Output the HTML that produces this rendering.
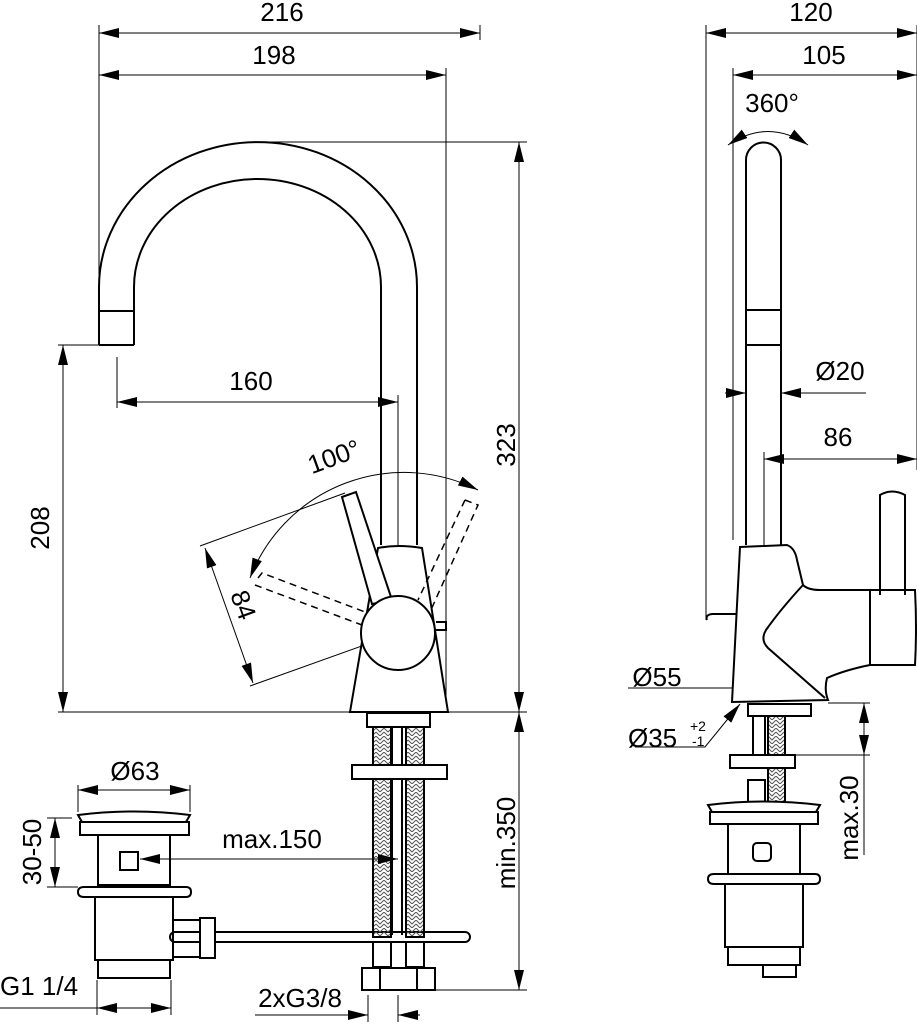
<!DOCTYPE html>
<html><head><meta charset="utf-8"><style>
html,body{margin:0;padding:0;background:#fff}
svg{display:block}
text{font-family:"Liberation Sans",Arial,sans-serif;font-size:26px;fill:#000}
</style></head><body>
<svg width="917" height="1024" viewBox="0 0 917 1024" xmlns="http://www.w3.org/2000/svg">
<defs>
<marker id="a" viewBox="0 0 20 10" refX="20" refY="5" markerWidth="20" markerHeight="10" markerUnits="userSpaceOnUse" orient="auto-start-reverse"><path d="M0,0 L20,5 L0,10 z" fill="#000"/></marker>
<pattern id="br" width="8" height="8" patternUnits="userSpaceOnUse"><path d="M0,0 L4,4 L8,0 M0,4 L4,8 L8,4" stroke="#555" stroke-width="1" fill="none"/></pattern>
</defs>
<g fill="none" stroke="#000" stroke-width="1">
<line x1="99" y1="25" x2="99" y2="345"/>
<line x1="480" y1="25" x2="480" y2="40"/>
<line x1="446" y1="68" x2="446" y2="712"/>
<line x1="99" y1="33" x2="480" y2="33" marker-start="url(#a)" marker-end="url(#a)"/>
<line x1="99" y1="75" x2="446" y2="75" marker-start="url(#a)" marker-end="url(#a)"/>
<line x1="257" y1="142" x2="527" y2="142"/>
<line x1="519" y1="142" x2="519" y2="712" marker-start="url(#a)" marker-end="url(#a)"/>
<line x1="58" y1="712" x2="350" y2="712"/>
<line x1="448" y1="712" x2="527" y2="712"/>
<line x1="58" y1="345" x2="99" y2="345"/>
<line x1="63" y1="345" x2="63" y2="712" marker-start="url(#a)" marker-end="url(#a)"/>
<line x1="117" y1="357" x2="117" y2="408"/>
<line x1="398" y1="395" x2="398" y2="545"/>
<line x1="117" y1="402" x2="398" y2="402" marker-start="url(#a)" marker-end="url(#a)"/>
<line x1="430" y1="990" x2="527" y2="990"/>
<line x1="519" y1="712" x2="519" y2="990" marker-start="url(#a)" marker-end="url(#a)"/>
<line x1="368" y1="995" x2="368" y2="1022"/>
<line x1="398" y1="995" x2="398" y2="1022"/>
<line x1="255" y1="1015" x2="368" y2="1015" marker-end="url(#a)"/>
<line x1="420" y1="1015" x2="398" y2="1015" marker-end="url(#a)"/>
<line x1="78" y1="785" x2="78" y2="812"/><line x1="190" y1="785" x2="190" y2="812"/>
<line x1="78" y1="790" x2="190" y2="790" marker-start="url(#a)" marker-end="url(#a)"/>
<line x1="47" y1="818" x2="72" y2="818"/><line x1="47" y1="887" x2="78" y2="887"/>
<line x1="55" y1="818" x2="55" y2="887" marker-start="url(#a)" marker-end="url(#a)"/>
<line x1="97" y1="980" x2="97" y2="1015"/><line x1="171" y1="980" x2="171" y2="1015"/>
<line x1="0" y1="1008" x2="171" y2="1008"/>
<line x1="97" y1="1008" x2="171" y2="1008" marker-start="url(#a)" marker-end="url(#a)"/>
<line x1="200" y1="546" x2="345" y2="493"/>
<line x1="250" y1="686" x2="398" y2="633"/>
<line x1="205" y1="548" x2="253" y2="683" marker-start="url(#a)" marker-end="url(#a)"/>
<path d="M478,490 A165,165 0 0 0 250,578" marker-start="url(#a)" marker-end="url(#a)"/>
</g>
<g fill="none" stroke="#000" stroke-width="2">
<path d="M99,345 L99,287 A159,145 0 0 1 417,287 L417,545"/>
<path d="M134,345 L134,287 A123.5,108 0 0 1 381,287 L381,545"/>
<path d="M99,311 L134,311 M99,345 L134,345"/>
<path d="M378,548 Q398,544 422,548 L448,712 L350,712 Z" fill="#fff"/>
<path d="M342,497 L356,492 L392,600 L372,604 Z" fill="#fff"/>
<circle cx="398" cy="633" r="37" fill="#fff"/>
<path d="M436,622 L446,622 L446,630 L436,630"/>
<rect x="170" y="932" width="300" height="10" rx="5" fill="#fff"/>
<rect x="367" y="713" width="63" height="14"/>
<rect x="373" y="727" width="18" height="210" fill="url(#br)"/>
<rect x="406" y="727" width="18" height="210" fill="url(#br)"/>
<line x1="392" y1="727" x2="392" y2="935"/><line x1="402" y1="727" x2="402" y2="935"/>
<rect x="352" y="765" width="95" height="14" fill="#fff"/>
<rect x="373" y="942" width="18" height="25" fill="#fff"/><rect x="406" y="942" width="18" height="25" fill="#fff"/>
<rect x="362" y="968" width="73" height="22"/>
<line x1="380" y1="968" x2="380" y2="990"/><line x1="417" y1="968" x2="417" y2="990"/>
<line x1="140" y1="859" x2="398" y2="859" stroke-width="1" marker-start="url(#a)" marker-end="url(#a)"/>
<path d="M78,815 Q134,808 190,815 L186,822 L82,822 Z"/>
<rect x="80" y="822" width="109" height="13"/>
<path d="M98,835 L170,835 L170,885 L98,885 Z"/>
<path d="M120,852 h18 v18 h-18 z"/>
<path d="M78,892 Q78,887 84,887 L186,887 Q191,887 191,892 Q191,897 186,897 L84,897 Q78,897 78,892Z"/>
<rect x="95" y="897" width="78" height="63"/>
<rect x="98" y="960" width="72" height="18"/>
<path d="M173,920 L200,920 L200,957 L173,957"/>
<rect x="200" y="918" width="15" height="40" fill="#fff"/>
</g>
<g fill="none" stroke="#000" stroke-width="1.5" stroke-dasharray="7,5">
<path d="M258,578 L262,573 L365,612 M255,585 L362,625"/>
<path d="M465,500 L478,505 L430,612 M465,500 L418,600"/>
</g>
<g fill="none" stroke="#000" stroke-width="1">
<line x1="706" y1="25" x2="706" y2="620"/>
<line x1="733" y1="68" x2="733" y2="540"/>
<line x1="917" y1="25" x2="917" y2="470"/>
<line x1="706" y1="33" x2="917" y2="33" marker-start="url(#a)" marker-end="url(#a)"/>
<line x1="733" y1="75" x2="917" y2="75" marker-start="url(#a)" marker-end="url(#a)"/>
<path d="M728,145 Q768,118 808,145" marker-start="url(#a)" marker-end="url(#a)"/>
<line x1="725" y1="393" x2="746" y2="393" marker-end="url(#a)"/>
<line x1="866" y1="393" x2="781" y2="393" marker-end="url(#a)"/>
<line x1="764" y1="452" x2="764" y2="550"/>
<line x1="764" y1="459" x2="917" y2="459" marker-start="url(#a)" marker-end="url(#a)"/>
<line x1="628" y1="688" x2="732" y2="688"/>
<line x1="732" y1="688" x2="826" y2="688" marker-start="url(#a)" marker-end="url(#a)"/>
<path d="M635,747 L705,747 L740,704" marker-end="url(#a)"/>
<line x1="828" y1="703" x2="870" y2="703"/><line x1="795" y1="755" x2="870" y2="755"/>
<line x1="864" y1="703" x2="864" y2="755" marker-start="url(#a)" marker-end="url(#a)"/>
<line x1="864" y1="755" x2="864" y2="855"/>
</g>
<g fill="none" stroke="#000" stroke-width="2">
<path d="M746,545 L746,160 A17.5,17.5 0 0 1 781,160 L781,545"/>
<path d="M746,310 H781 M746,345 H781"/>
<path d="M707,620 Q705,615 712,614 L738,614"/>
<path d="M740,547 L787,545 Q795,548 797,560 L803,585 Q808,590 820,590 L870,590 L870,665 Q845,670 827,678 Q824,690 828,700 L732,702 Z" fill="#fff"/>
<path d="M803,585 Q780,610 766,630 Q760,640 768,648 L825,698"/>
<path d="M870,590 L915,590 Q917,628 915,665 L870,665 Z" fill="#fff"/>
<path d="M880,595 L880,495 Q892,488 905,495 L905,595"/>
<rect x="748" y="704" width="63" height="12"/>
<rect x="753" y="716" width="12" height="40"/>
<rect x="768" y="716" width="17" height="90" fill="url(#br)"/>
<rect x="730" y="755" width="65" height="13" fill="#fff"/>
<rect x="748" y="780" width="17" height="22"/>
<path d="M708,805 Q764,798 820,805 L816,812 L712,812 Z" fill="#fff"/>
<rect x="710" y="812" width="108" height="12"/>
<rect x="728" y="824" width="72" height="50"/>
<rect x="753" y="843" width="18" height="18" rx="4"/>
<path d="M708,879 Q708,874 714,874 L815,874 Q820,874 820,879 Q820,884 815,884 L714,884 Q708,884 708,879Z"/>
<rect x="725" y="884" width="78" height="63"/>
<rect x="728" y="947" width="72" height="18"/>
<rect x="763" y="965" width="33" height="12"/>
</g>
<text x="282" y="21" text-anchor="middle">216</text>
<text x="274" y="64" text-anchor="middle">198</text>
<text x="251" y="390" text-anchor="middle">160</text>
<text x="0" y="0" text-anchor="middle" transform="translate(515,445) rotate(-90)">323</text>
<text x="0" y="0" text-anchor="middle" transform="translate(49,528) rotate(-90)">208</text>
<text x="0" y="0" text-anchor="middle" transform="translate(337,465) rotate(-20)">100°</text>
<text x="0" y="0" text-anchor="middle" transform="translate(235,608) rotate(70)">84</text>
<text x="135" y="780" text-anchor="middle">Ø63</text>
<text x="0" y="0" text-anchor="middle" transform="translate(41,852) rotate(-90)">30-50</text>
<text x="272" y="848" text-anchor="middle">max.150</text>
<text x="0" y="0" text-anchor="middle" transform="translate(515,843) rotate(-90)">min.350</text>
<text x="0" y="995">G1 1/4</text>
<text x="300" y="1007" text-anchor="middle">2xG3/8</text>
<text x="811" y="21" text-anchor="middle">120</text>
<text x="824" y="64" text-anchor="middle">105</text>
<text x="772" y="112" text-anchor="middle">360°</text>
<text x="840" y="380" text-anchor="middle">Ø20</text>
<text x="838" y="446" text-anchor="middle">86</text>
<text x="657" y="686" text-anchor="middle">Ø55</text>
<text x="628" y="747">Ø35</text>
<text x="690" y="731" style="font-size:14px">+2</text>
<text x="692" y="746" style="font-size:14px">-1</text>
<text x="0" y="0" text-anchor="middle" transform="translate(858,818) rotate(-90)">max.30</text>
</svg>
</body></html>
